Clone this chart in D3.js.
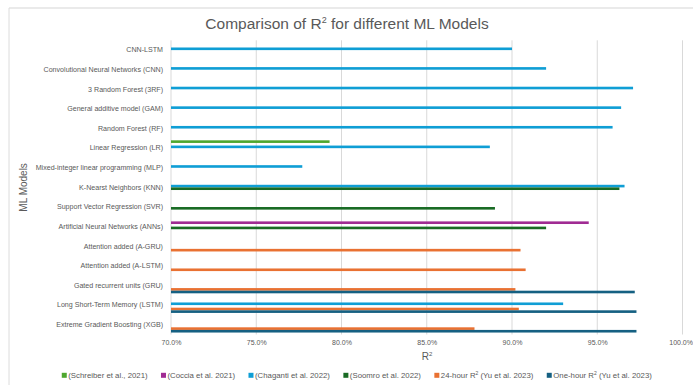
<!DOCTYPE html>
<html>
<head>
<meta charset="utf-8">
<script src="https://cdn.jsdelivr.net/npm/d3@7"></script>
<style>
  html, body { margin: 0; padding: 0; background: #ffffff; }
  svg text { font-family: "Liberation Sans", Arial, sans-serif; fill: #595959; }
</style>
</head>
<body>
<svg id="chart" width="693" height="385"></svg>
<script>
// Models, listed top to bottom as they appear on the category axis
const models = [
  "CNN-LSTM",
  "Convolutional Neural Networks (CNN)",
  "3 Random Forest (3RF)",
  "General additive model (GAM)",
  "Random Forest (RF)",
  "Linear Regression (LR)",
  "Mixed-integer linear programming (MLP)",
  "K-Nearst Neighbors (KNN)",
  "Support Vector Regression (SVR)",
  "Artificial Neural Networks (ANNs) ",
  "Attention added (A-GRU) ",
  "Attention added (A-LSTM)",
  "Gated recurrent units (GRU)",
  "Long Short-Term Memory (LSTM)",
  "Extreme Gradient Boosting (XGB)"
];

// R² (%) per study, aligned with `models`; null = not reported
const schreiber2021 = [null, null, null, null, null, 79.3, null, null, null, null, null, null, null, null, null];
const coccia2021    = [null, null, null, null, null, null, null, null, null, 94.5, null, null, null, null, null];
const chaganti2022  = [90.0, 92.0, 97.1, 96.4, 95.9, 88.7, 77.7, 96.6, null, null, null, null, null, 93.0, null];
const soomro2022    = [null, null, null, null, null, null, null, 96.3, 89.0, 92.0, null, null, null, null, null];
const yu2023Day     = [null, null, null, null, null, null, null, null, null, null, 90.5, 90.8, 90.2, 90.4, 87.8];
const yu2023Hour    = [null, null, null, null, null, null, null, null, null, null, null, null, 97.2, 97.3, 97.3];

const seriesNames = ["schreiber", "coccia", "chaganti", "soomro", "yuDay", "yuHour"];
const seriesLabels = [
  ["(Schreiber et al., 2021)"],
  ["(Coccia et al. 2021)"],
  ["(Chaganti et al. 2022)"],
  ["(Soomro et al. 2022)"],
  ["24-hour R", "2", " (Yu et al. 2023)"],
  ["One-hour R", "2", " (Yu et al. 2023)"]
];
const seriesColors = ["#4EA72E", "#A02B93", "#0F9ED5", "#196B24", "#E97132", "#156082"];
const seriesValues = [schreiber2021, coccia2021, chaganti2022, soomro2022, yu2023Day, yu2023Hour];

const xTicks = [70, 75, 80, 85, 90, 95, 100];
const xDomain = [70, 100];

const textColor = "#595959";
const svg = d3.select("#chart");
const W = 693, H = 385;
const plot = { left: 171, right: 682.5, top: 40.3, bottom: 334.5 };

// chart frame
svg.append("line").attr("x1", 9).attr("x2", W).attr("y1", 8).attr("y2", 8)
  .attr("stroke", "#e3e3e3").attr("stroke-width", 1.6);
svg.append("line").attr("x1", 9).attr("x2", 9).attr("y1", 8).attr("y2", H)
  .attr("stroke", "#dcdcdc").attr("stroke-width", 1);

const x = d3.scaleLinear().domain(xDomain).range([plot.left, plot.right]);
const y = d3.scaleBand().domain(models).range([plot.top, plot.bottom])
  .paddingInner(0.2).paddingOuter(0.1);
const ySub = d3.scaleBand().domain(seriesNames).range([0, y.bandwidth()]);

// vertical gridlines
svg.append("g").selectAll("line").data(xTicks).join("line")
  .attr("x1", d => x(d)).attr("x2", d => x(d))
  .attr("y1", plot.top).attr("y2", plot.bottom)
  .attr("stroke", "#d9d9d9").attr("stroke-width", 1);

// x axis tick labels
const xAxis = d3.axisBottom(x).tickValues(xTicks).tickSize(0).tickPadding(6)
  .tickFormat(d => d3.format(".1f")(d) + "%");
const gx = svg.append("g").attr("transform", `translate(0,${plot.bottom})`)
  .style("color", textColor).call(xAxis);
gx.select(".domain").remove();
gx.selectAll("text").style("font-size", "7px").style("fill", textColor);
// keep the last label inside the frame
gx.selectAll(".tick").filter(d => d === xDomain[1]).select("text")
  .attr("text-anchor", "end").attr("x", W - x(xDomain[1]) - 0.5);

// y axis category labels
const yAxis = d3.axisLeft(y).tickSize(0).tickPadding(8);
const gy = svg.append("g").attr("transform", `translate(${plot.left},0)`)
  .style("color", textColor).call(yAxis);
gy.select(".domain").remove();
gy.selectAll("text").style("font-size", "7.1px").style("fill", textColor);

// bars
const bars = [];
seriesValues.forEach((vals, si) => {
  vals.forEach((v, ci) => {
    if (v != null) bars.push({ model: models[ci], series: seriesNames[si], color: seriesColors[si], value: v });
  });
});
svg.append("g").selectAll("rect").data(bars).join("rect")
  .attr("x", x(xDomain[0]))
  .attr("y", d => y(d.model) + ySub(d.series))
  .attr("width", d => x(d.value) - x(xDomain[0]))
  .attr("height", ySub.bandwidth())
  .attr("fill", d => d.color);

// title
const title = svg.append("text").attr("x", 347).attr("y", 29)
  .attr("text-anchor", "middle").style("font-size", "15.5px");
title.append("tspan").text("Comparison of  R");
title.append("tspan").attr("dy", -6).style("font-size", "9px").text("2");
title.append("tspan").attr("dy", 6).text("  for different ML Models");

// axis titles
const xt = svg.append("text").attr("x", 427).attr("y", 359.5)
  .attr("text-anchor", "middle").style("font-size", "10px");
xt.append("tspan").text("R");
xt.append("tspan").attr("dy", -4).style("font-size", "6px").text("2");

svg.append("text").attr("transform", `translate(27,${(plot.top + plot.bottom) / 2}) rotate(-90)`)
  .attr("text-anchor", "middle").style("font-size", "10px").text("ML Models");

// legend
const legendY = 375.3;
const legend = svg.append("g");
const items = legend.selectAll("g").data(seriesLabels).join("g");
items.append("rect").attr("width", 5).attr("height", 5).attr("y", legendY - 2.5)
  .attr("fill", (d, i) => seriesColors[i]);
items.each(function (parts) {
  const t = d3.select(this).append("text").attr("x", 6.5).attr("y", legendY + 2.6)
    .style("font-size", "7.8px");
  parts.forEach((p, k) => {
    if (parts.length === 3 && k === 1) t.append("tspan").attr("dy", -3).style("font-size", "5px").text(p);
    else if (parts.length === 3 && k === 2) t.append("tspan").attr("dy", 3).text(p);
    else t.append("tspan").text(p);
  });
});
const gap = 13;
let widths = [];
items.each(function () { widths.push(this.getBBox().width); });
const total = d3.sum(widths) + gap * (widths.length - 1);
let cx = 357 - total / 2;
items.attr("transform", (d, i) => {
  const tx = cx; cx += widths[i] + gap; return `translate(${tx},0)`;
});
</script>
</body>
</html>
